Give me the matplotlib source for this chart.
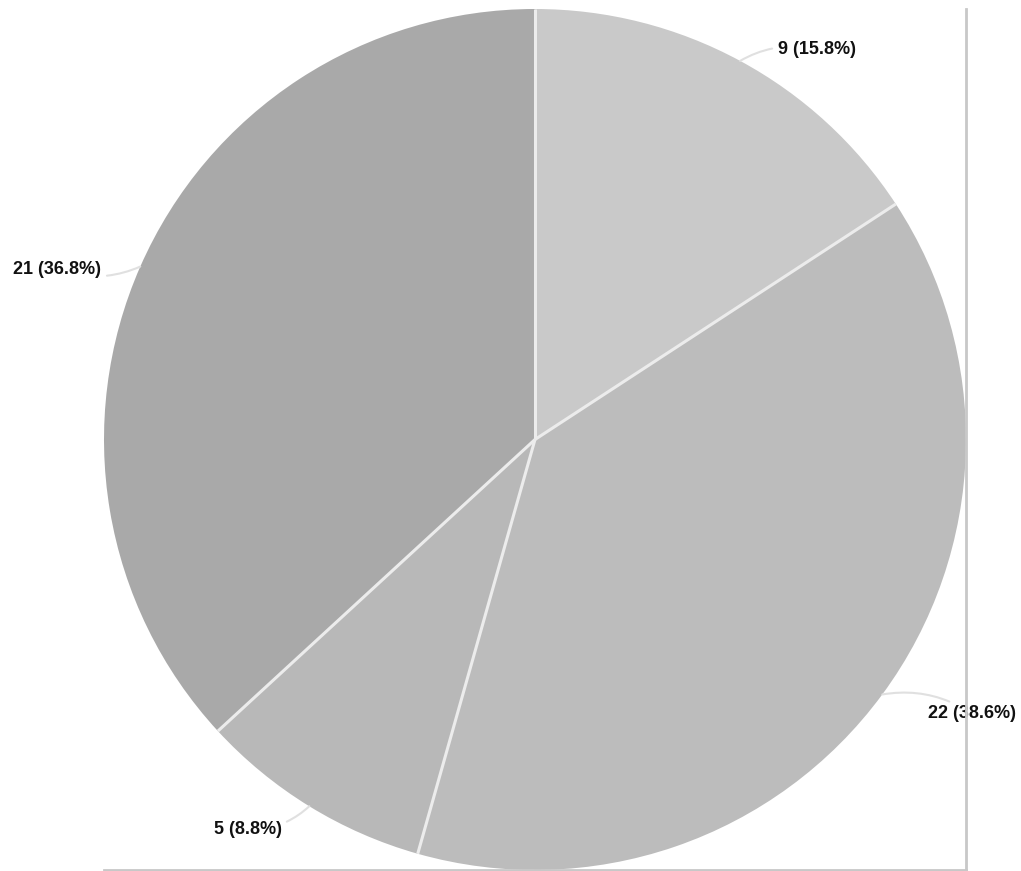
import matplotlib.pyplot as plt
import numpy as np

# slice counts, clockwise from 12 o'clock
counts = [9, 22, 5, 21]
colors = ['#c9c9c9', '#bcbcbc', '#b8b8b8', '#a9a9a9']

# label placement: (offset x, offset y) in points from the wedge edge, alignment
label_offsets = [(27, 8), (33, -14), (-20, -17), (-28, -2)]
label_align = ['left', 'left', 'right', 'right']

total = sum(counts)
labels = ["%d (%.1f%%)" % (c, 100.0 * c / total) for c in counts]

fig = plt.figure(figsize=(10.21, 8.71), dpi=100)
W, H = 1021, 871
ax = fig.add_axes([104 / W, 1 / H, 862 / W, 861 / H])

wedges, _ = ax.pie(counts, colors=colors, startangle=90, counterclock=False,
                   radius=1.0, wedgeprops=dict(edgecolor='none', linewidth=0))

# thin light separators between the slices
for w in wedges:
    a = np.deg2rad(w.theta1)
    ax.plot([0, np.cos(a)], [0, np.sin(a)], color='#ececec', lw=2.2,
            solid_capstyle='butt', zorder=3)

for w, lab, off, ha in zip(wedges, labels, label_offsets, label_align):
    ang = np.deg2rad((w.theta1 + w.theta2) / 2.0)
    xy = (np.cos(ang), np.sin(ang))
    ax.annotate(lab, xy=xy, xytext=off, textcoords='offset points',
                ha=ha, va='center', fontsize=13, fontweight='bold',
                family='Liberation Sans', color='#111111',
                arrowprops=dict(arrowstyle='-', color='#e0e0e0', lw=1.5,
                                shrinkA=2, shrinkB=0,
                                connectionstyle='arc3,rad=0.2'),
                annotation_clip=False)

ax.set_xlim(-1.0, 1.0)
ax.set_ylim(-1.0, 1.0)
ax.set_aspect('auto')
ax.set_frame_on(True)
ax.set_xticks([])
ax.set_yticks([])
for side in ['top', 'left']:
    ax.spines[side].set_visible(False)
for side in ['right', 'bottom']:
    ax.spines[side].set_color('#c8c8c8')
    ax.spines[side].set_linewidth(2)
    ax.spines[side].set_zorder(5)

plt.savefig('out.png', dpi=100)
